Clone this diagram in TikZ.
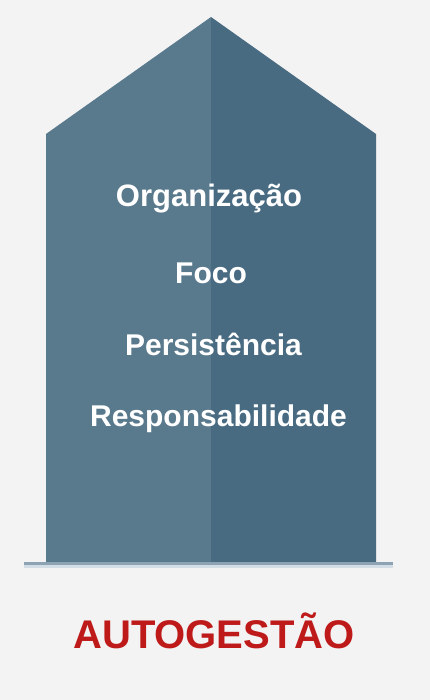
\documentclass[tikz,border=0pt]{standalone}
\usepackage{fontspec}
\setmainfont{Liberation Sans}
\definecolor{Paper}{RGB}{243,243,243}
\definecolor{Wallleft}{RGB}{89,121,141}
\definecolor{Wallright}{RGB}{73,107,130}
\definecolor{Baseline}{RGB}{141,163,179}
\definecolor{Baselight}{RGB}{211,221,229}
\definecolor{Titlered}{RGB}{190,26,26}

\begin{document}
\begin{tikzpicture}[x=1pt,y=-1pt]
            \fill[Paper] (0,0) rectangle (430,700);
            \useasboundingbox (0,0) rectangle (430,700);
            \coordinate (peak) at (211,17);
            \coordinate (foot) at (211,563);
            \fill[Wallleft] (peak) -- (46,134) -- (46,563) -- (foot) -- cycle;
            \fill[Wallright] (peak) -- (376,134) -- (376,563) -- (foot) -- cycle;
            \fill[Baselight] (24,562) rectangle (393,568);
            \fill[Baseline] (24,562) rectangle (393,564.5);

            \node[text=white, font=\bfseries\fontsize{31}{31}\selectfont, anchor=base] (org) at (209,207) {Organização};
            \node[text=white, font=\bfseries\fontsize{30}{30}\selectfont, anchor=base] (foco) at (211,283) {Foco};
            \node[text=white, font=\bfseries\fontsize{30}{30}\selectfont, anchor=base] (pers) at (213.5,355) {Persistência};
            \node[text=white, font=\bfseries\fontsize{30}{30}\selectfont, anchor=base] (resp) at (218.5,426) {Responsabilidade};
            \node[text=Titlered, font=\bfseries\fontsize{40}{40}\selectfont, anchor=base] (titulo) at (214,648) {AUTOGESTÃO};
        \end{tikzpicture}
\end{document}
